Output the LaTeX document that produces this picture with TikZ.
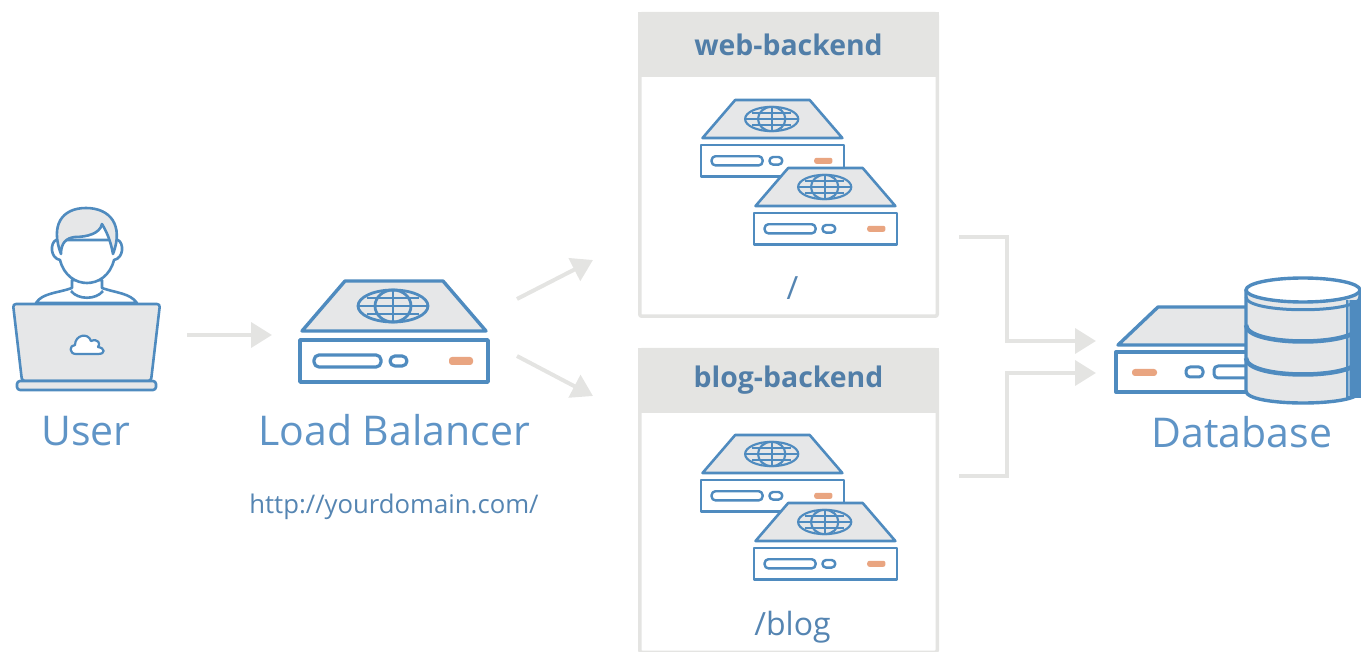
\documentclass[tikz,border=0pt]{standalone}
\usepackage{fontspec}
\setmainfont{Open Sans}
\usetikzlibrary{positioning,arrows.meta}
\definecolor{lineblue}{HTML}{4F8BBF}
\definecolor{textblue}{HTML}{5F94C6}
\definecolor{softgrey}{HTML}{E6E7E8}
\definecolor{framegrey}{HTML}{E4E4E2}
\definecolor{ledorange}{HTML}{E9A581}
\tikzset{
    iconline/.style={draw=lineblue, line width=#1, line join=round},
    iconline/.default=3.4pt,
    flowarrow/.style={draw=framegrey, line width=4pt, -{Triangle[length=21pt,width=25pt]}},
    spot/.style={minimum width=#1, inner sep=0pt, outer sep=0pt},
    panel/.style={draw=framegrey, line width=3.5pt, fill=white, rounded corners=2pt, minimum width=297.5pt, minimum height=302.5pt, inner sep=0pt},
    panelhead/.style={fill=framegrey, minimum width=301pt, minimum height=65pt, inner sep=0pt, outer sep=0pt, text=textblue!85!black, font=\fontsize{28.4}{32}\selectfont\bfseries},
    biglabel/.style={text=textblue, font=\fontsize{41}{44}\selectfont, inner sep=0pt},
    pathlabel/.style={text=textblue!90!black, font=\fontsize{32}{36}\selectfont, inner sep=0pt}
}
\newcommand{\globepic}[3]{
    \begin{scope}[shift={(#1,#2)},scale=#3]
        \draw[iconline=#3*2.8pt] (0,0) ellipse [x radius=35pt, y radius=16pt];
        \draw[iconline=#3*2.8pt] (0,0) ellipse [x radius=18pt, y radius=16pt];
        \draw[iconline=#3*2.4pt] (0,-16) -- (0,16);
        \draw[iconline=#3*1.6pt] (-26,-8) -- (26,-8);
        \draw[iconline=#3*1.6pt] (-35,0) -- (35,0);
        \draw[iconline=#3*1.6pt] (-26,8) -- (26,8);
    \end{scope}
}
\newcommand{\serverpic}[3]{
    \begin{scope}[shift={(#1,#2)},scale=#3]
        \fill[white] (45,0) -- (143,0) -- (188,50) -- (188,101) -- (0,101) -- (0,50) -- cycle;
        \draw[iconline=#3*3.4pt, fill=softgrey] (45,0) -- (143,0) -- (186,50) -- (2,50) -- cycle;
        \draw[iconline=#3*3.4pt, fill=white] (0,59) rectangle (188,101);
        \draw[iconline=#3*3.2pt, rounded corners=#3*5pt] (14,74) rectangle (81,86);
        \draw[iconline=#3*3.2pt, rounded corners=#3*5pt] (90,75) rectangle (107,85);
        \fill[ledorange, rounded corners=#3*3pt] (149,76) rectangle (173,84);
    \end{scope}
    \globepic{#1+93*#3}{#2+25*#3}{#3}
}
\begin{document}
\begin{tikzpicture}[x=1pt,y=-1pt]
    \useasboundingbox (0,0) rectangle (1361,652);

    \node[spot=148pt, minimum height=182pt] (userpic) at (86,300) {};
    \node[spot=188pt, minimum height=108pt] (lbpic) at (394,335) {};
    \node[panel] (webpanel) at (788.5,165) {};
    \node[panel] (blogpanel) at (788.5,501) {};
    \node[spot=245pt, minimum height=126pt] (dbpic) at (1238.5,340) {};

    \node[panelhead, below=0pt of webpanel.north] (webhead) {web-backend};
    \node[panelhead, below=0pt of blogpanel.north] (bloghead) {blog-backend};

    % user with laptop
    \draw[iconline=2.6pt, fill=white] (36,303) .. controls (42,293) and (58,293) .. (72,288) -- (72,280) -- (102,280) -- (102,288) .. controls (116,293) and (130,293) .. (137,303) -- cycle;
    \draw[iconline=2.6pt] (71,291) .. controls (78,300) and (96,300) .. (103,291);
    \draw[iconline=2.6pt, fill=white] (56,240) .. controls (50,243) and (50,258) .. (60,260) .. controls (64,276) and (76,283) .. (87,283) .. controls (98,283) and (110,276) .. (114,260) .. controls (124,258) and (124,243) .. (118,240) -- cycle;
    \draw[iconline=2.6pt, fill=softgrey] (61,254) .. controls (50,225) and (62,208) .. (86,208) .. controls (110,208) and (124,225) .. (113,254) .. controls (111,243) and (108,234) .. (102,224) .. controls (100,234) and (86,237) .. (75,237) .. controls (66,238) and (61,243) .. (61,254) -- cycle;
    \draw[iconline=2.6pt, fill=softgrey, rounded corners=3pt] (13,304) -- (160,304) -- (151,381) -- (22,381) -- cycle;
    \draw[iconline=2.6pt, fill=softgrey, rounded corners=3pt] (17,381) rectangle (156,390);
    \draw[iconline=2.2pt, fill=white] (76,354) .. controls (69,354) and (69,345) .. (75,345) .. controls (75,335) and (88,332) .. (91,341) .. controls (98,338) and (101,344) .. (98,347) .. controls (105,348) and (106,354) .. (98,354) -- cycle;

    \serverpic{300}{281}{1}
    \serverpic{701}{100}{.76}
    \serverpic{754}{168}{.76}
    \serverpic{701}{435}{.76}
    \serverpic{754}{503}{.76}

    % database
    \draw[iconline, fill=softgrey] (1158,307) -- (1270,307) -- (1270,345) -- (1118,345) -- cycle;
    \draw[iconline, fill=white] (1270,352) -- (1116,352) -- (1116,392) -- (1270,392);
    \fill[ledorange, rounded corners=3pt] (1132,369) rectangle (1157,376);
    \draw[iconline=3pt, rounded corners=4pt] (1186,367) rectangle (1203,377);
    \draw[iconline=3pt, rounded corners=4pt] (1260,366) -- (1214,366) -- (1214,378) -- (1260,378);
    \draw[iconline=3.4pt, fill=softgrey] (1246,290) -- (1246,391) .. controls (1246,407) and (1360,407) .. (1360,391) -- (1360,290) -- cycle;
    \fill[lineblue] (1346,300) rectangle (1361,398);
    \draw[white!40!lineblue, line width=1.5pt] (1349,300) -- (1349,396);
    \draw[iconline=3pt] (1246,297) .. controls (1246,314) and (1360,314) .. (1360,297);
    \draw[iconline=4.5pt] (1246,325) .. controls (1246,347) and (1360,347) .. (1360,325);
    \draw[iconline=4.5pt] (1246,358) .. controls (1246,380) and (1360,380) .. (1360,358);
    \draw[iconline=3.4pt, fill=white] (1303,290) ellipse [x radius=57pt, y radius=12pt];

    \node[biglabel, below=25pt of userpic.south] (userlabel) {User};
    \node[biglabel, below=25pt of lbpic.south] (lblabel) {Load Balancer};
    \node[text=textblue!90!black, font=\fontsize{25.7}{29}\selectfont, inner sep=0pt, below=48pt of lblabel.south] (urllabel) {http://yourdomain.com/};
    \node[biglabel, below=13pt of dbpic.south, xshift=3.5pt] (dblabel) {Database};
    \node[pathlabel, above=18pt of webpanel.south, xshift=4pt] (webpath) {/};
    \node[pathlabel, above=11pt of blogpanel.south, xshift=4pt] (blogpath) {/blog};

    \draw[flowarrow, shorten <=27pt, shorten >=28pt] (userpic.east |- lbpic.west) -- (lbpic.west);
    \draw[flowarrow] ([shift={(29,-36)}]lbpic.east) -- ([shift={(-45,95)}]webpanel.west);
    \draw[flowarrow] ([shift={(29,21)}]lbpic.east) -- ([shift={(-45,-105)}]blogpanel.west);
    \draw[flowarrow] ([shift={(20,72)}]webpanel.east) -- ++(48,0) |- ([shift={(-20,1)}]dbpic.west);
    \draw[flowarrow] ([shift={(20,-25)}]blogpanel.east) -- ++(48,0) |- ([shift={(-20,33)}]dbpic.west);
\end{tikzpicture}
\end{document}
